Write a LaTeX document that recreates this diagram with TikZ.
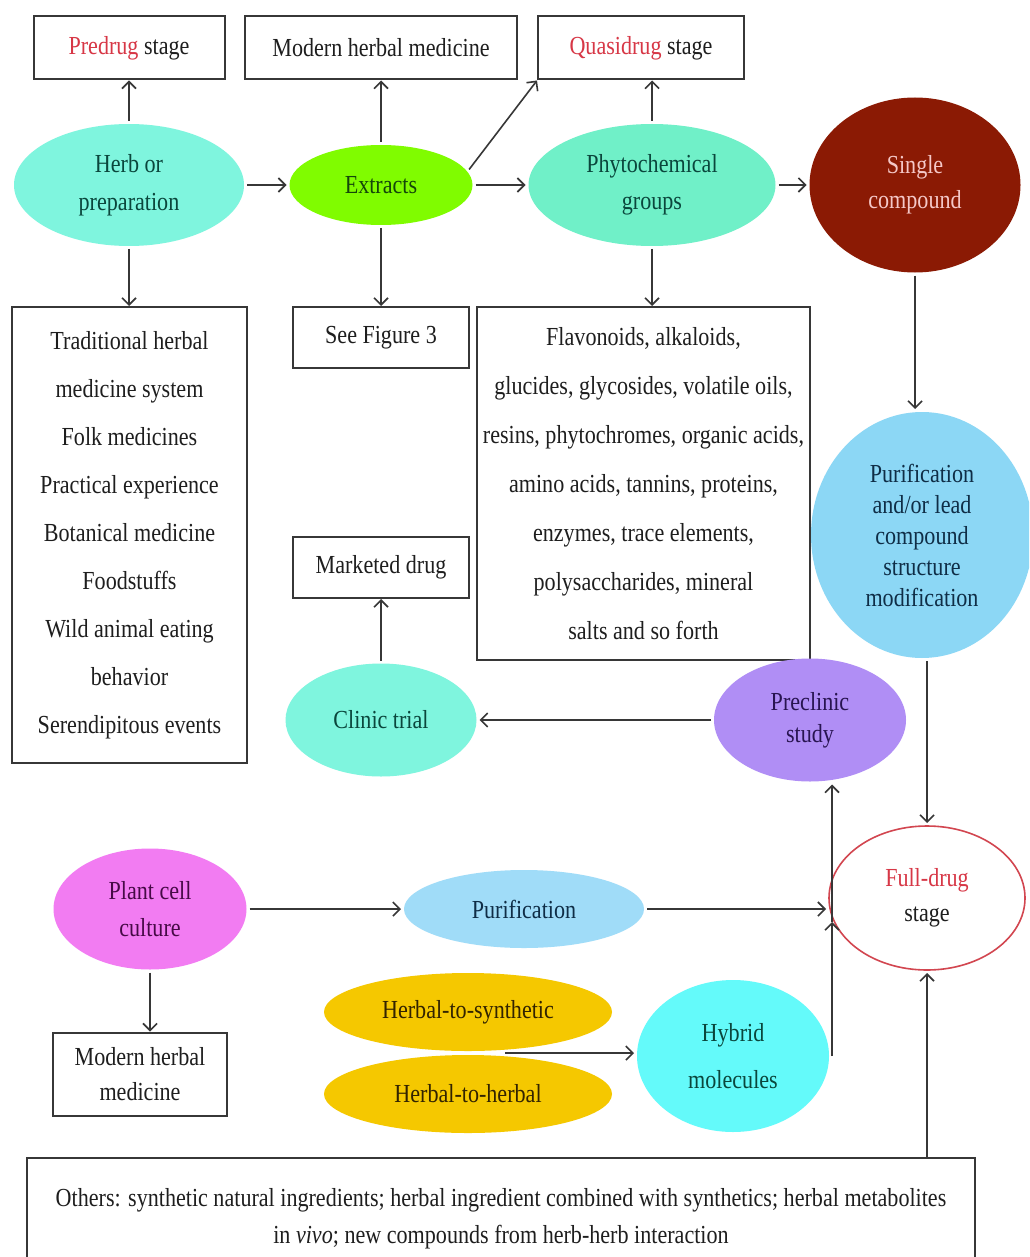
\documentclass[tikz,border=0pt]{standalone}
\usepackage{fontspec}
\setmainfont{Liberation Serif}[FakeStretch=0.85]
\usepackage{xcolor}
\usepackage{tikz}
\usetikzlibrary{arrows.meta,shapes,positioning,calc}

\definecolor{linegray}{RGB}{55,55,55}
\definecolor{boxtxt}{RGB}{30,30,30}
\definecolor{redtxt}{RGB}{215,55,70}
\definecolor{drugred}{RGB}{210,70,80}
\definecolor{herbcyan}{RGB}{127,245,222}
\definecolor{extgreen}{RGB}{128,252,0}
\definecolor{phygreen}{RGB}{112,240,200}
\definecolor{singlered}{RGB}{139,26,4}
\definecolor{leadblue}{RGB}{140,215,245}
\definecolor{purblue}{RGB}{160,220,248}
\definecolor{previolet}{RGB}{176,142,245}
\definecolor{plantpink}{RGB}{242,124,242}
\definecolor{mixyellow}{RGB}{245,200,0}
\definecolor{hybcyan}{RGB}{100,250,250}
\definecolor{tealtxt}{RGB}{10,70,60}
\definecolor{greentxt}{RGB}{20,70,10}
\definecolor{pinktxt}{RGB}{245,200,200}
\definecolor{leadtxt}{RGB}{15,45,70}
\definecolor{pretxt}{RGB}{40,20,80}
\definecolor{planttxt}{RGB}{70,10,70}
\definecolor{mixtxt}{RGB}{50,35,0}

\begin{document}
\begin{tikzpicture}[x = .5pt, y = -.5pt,
    box/.style = {draw = linegray, line width = 1pt, fill = white, text = boxtxt, inner sep = 0pt, align = center},
    blob/.style = {ellipse, inner sep = 0pt, outer sep = 1.5pt, align = center},
    txt/.style = {font = \fontsize{13}{#1}\selectfont},
    txt/.default = 18,
    conn/.style = {->, draw = linegray, line width = .8pt},
    >={Straight Barb[length = 3.5pt, width = 7pt]}]
    \clip (0,0) rectangle (1029,1257);
    \fill[white] (0,0) rectangle (1029,1257);
    % Top row
    \node[box, txt, minimum width = 95.5pt, minimum height = 31.5pt] (pre) at (129,48) {\textcolor{redtxt}{Predrug} stage};
    \node[box, txt, minimum width = 136pt, minimum height = 31.5pt] (mhmtop) at (381,48) {Modern herbal medicine};
    \node[box, txt, minimum width = 103pt, minimum height = 31.5pt] (quasi) at (641,48) {\textcolor{redtxt}{Quasidrug} stage};
    \node[blob, txt = 19, fill = herbcyan, text = tealtxt, minimum width = 115pt, minimum height = 61pt] (herb) at (129,185) {Herb or\\preparation};
    \node[blob, txt, fill = extgreen, text = greentxt, minimum width = 91.5pt, minimum height = 40pt] (ext) at (381,185) {Extracts};
    \node[blob, txt = 18.5, fill = phygreen, text = tealtxt, minimum width = 123.5pt, minimum height = 61pt] (phy) at (652,185) {Phytochemical\\groups};
    \node[blob, txt = 17.5, fill = singlered, text = pinktxt, minimum width = 105.5pt, minimum height = 87.5pt] (single) at (915,185) {Single\\compound};
    % Middle
    \node[box, txt = 24, minimum width = 117.5pt, minimum height = 228pt] (trad) at (129.5,535) {Traditional herbal\\medicine system\\Folk medicines\\Practical experience\\Botanical medicine\\Foodstuffs\\Wild animal eating\\behavior\\Serendipitous events};
    \node[box, txt, minimum width = 88pt, minimum height = 30.5pt] (fig) at (381,337.5) {See Figure 3};
    \node[box, txt = 24.5, minimum width = 166.5pt, minimum height = 176.5pt] (groups) at (643.5,483.5) {Flavonoids, alkaloids,\\glucides, glycosides, volatile oils,\\resins, phytochromes, organic acids,\\amino acids, tannins, proteins,\\enzymes, trace elements,\\polysaccharides, mineral\\salts and so forth};
    \node[blob, txt = 15.5, fill = leadblue, text = leadtxt, minimum width = 111pt, minimum height = 123pt] (lead) at (922,535) {Purification\\and/or lead\\compound\\structure\\modification};
    \node[box, txt, minimum width = 88pt, minimum height = 30.5pt] (mkt) at (381,567.5) {Marketed drug};
    \node[blob, txt, fill = herbcyan, text = tealtxt, minimum width = 95.5pt, minimum height = 56.5pt] (clinic) at (381,720) {Clinic trial};
    \node[blob, txt = 16, fill = previolet, text = pretxt, minimum width = 96pt, minimum height = 61.5pt] (precl) at (810,720) {Preclinic\\study};
    % Bottom
    \node[blob, txt = 17.5, fill = white, draw = drugred, line width = .8pt, text = boxtxt, minimum width = 98pt, minimum height = 72pt] (full) at (927,898) {\textcolor{redtxt}{Full-drug}\\stage};
    \node[blob, txt = 18.5, fill = plantpink, text = planttxt, minimum width = 96.5pt, minimum height = 60.5pt] (plant) at (150,909) {Plant cell\\culture};
    \node[blob, txt, fill = purblue, text = leadtxt, minimum width = 120pt, minimum height = 39pt] (pur) at (524,909) {Purification};
    \node[box, txt = 17.5, minimum width = 87pt, minimum height = 41.5pt] (mhmlow) at (140,1074) {Modern herbal\\medicine};
    \node[blob, txt, fill = mixyellow, text = mixtxt, minimum width = 144pt, minimum height = 39pt] (syn) at (468,1012) {Herbal-to-synthetic};
    \node[blob, txt, fill = mixyellow, text = mixtxt, minimum width = 144pt, minimum height = 39pt] (hh) at (468,1094) {Herbal-to-herbal};
    \node[blob, txt = 23.5, fill = hybcyan, text = tealtxt, minimum width = 96pt, minimum height = 76pt] (hyb) at (733,1056) {Hybrid\\molecules};
    \node[box, font = \fontsize{13}{18.5}\selectfont, minimum width = 474pt, minimum height = 61pt] (others) at (501,1219) {Others: synthetic natural ingredients; herbal ingredient combined with synthetics; herbal metabolites\\in \textit{vivo}; new compounds from herb-herb interaction};
    \coordinate (mix) at (505,1053);
    \coordinate (jn) at (829,922);
    % Arrows
    \draw[conn] (herb) -- (pre);
    \draw[conn] (herb.south) -- (herb.south |- trad.north);
    \draw[conn] (herb) -- (ext);
    \draw[conn] (ext) -- (mhmtop);
    \draw[conn] (ext) -- (fig);
    \draw[conn] (ext) -- (phy);
    \draw[conn] (ext.10) -- (quasi.south west);
    \draw[conn] (phy.north) -- (phy.north |- quasi.south);
    \draw[conn] (phy.south) -- (phy.south |- groups.north);
    \draw[conn] (phy) -- (single);
    \draw[conn] (single.south) -- (single.south |- lead.north);
    \draw[conn] (full.north |- lead.south) -- (full.north);
    \draw[conn] (precl) -- (clinic);
    \draw[conn] (clinic) -- (mkt);
    \draw[conn] (plant) -- (pur);
    \draw[conn] (pur.east) -- (pur.east -| full.west);
    \draw[conn] (plant.south) -- (plant.south |- mhmlow.north);
    \draw[conn] (mix) -- (mix -| hyb.west);
    \draw[conn] (hyb.east) -- (hyb.east |- jn);
    \draw[conn] (hyb.east |- jn) -- (hyb.east |- precl.south);
    \draw[conn] (others.north -| full.south) -- (full.south);
\end{tikzpicture}
\end{document}
